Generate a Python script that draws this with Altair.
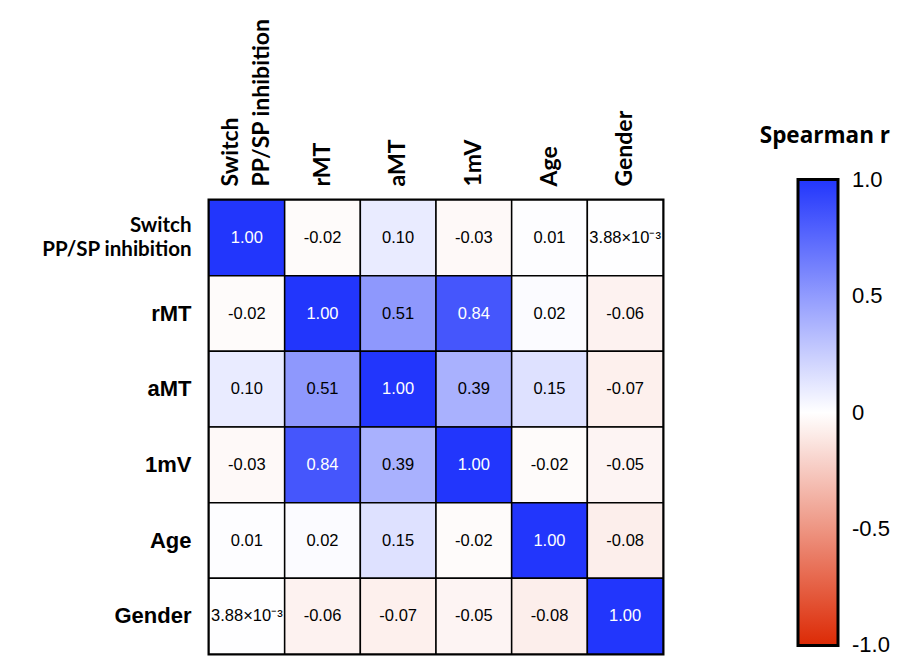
import altair as alt
import pandas as pd

variables = ["Switch\nPP/SP inhibition", "rMT", "aMT", "1mV", "Age", "Gender"]
matrix = [
    [1.00, -0.02, 0.10, -0.03, 0.01, 0.00388],
    [-0.02, 1.00, 0.51, 0.84, 0.02, -0.06],
    [0.10, 0.51, 1.00, 0.39, 0.15, -0.07],
    [-0.03, 0.84, 0.39, 1.00, -0.02, -0.05],
    [0.01, 0.02, 0.15, -0.02, 1.00, -0.08],
    [0.00388, -0.06, -0.07, -0.05, -0.08, 1.00],
]
# end ticks nudged just inside the domain so their labels centre on the ends
legend_values = [-0.9999, -0.5, 0.0, 0.5, 0.9999]


def fmt(v):
    if v != 0 and abs(v) < 0.01:
        return "3.88×10⁻³" if abs(v - 0.00388) < 1e-9 else f"{v:.2e}"
    return f"{v:.2f}"


rows = []
for i, rname in enumerate(variables):
    for j, cname in enumerate(variables):
        v = matrix[i][j]
        rows.append({"row": rname, "col": cname, "r": v, "label": fmt(v)})
df = pd.DataFrame(rows)

split_expr = "split(datum.label, '\\n')"
is_multi = "indexof(datum.value, 'Switch') >= 0"


def cond(test, a, b):
    return {"condition": {"test": test, "value": a}, "value": b}


x_enc = alt.X(
    "col:N",
    sort=variables,
    scale=alt.Scale(paddingInner=0, paddingOuter=0),
    axis=alt.Axis(
        orient="top", title=None, labelAngle=-90, labelAlign="left",
        labelBaseline="middle", labelFont="Lato", labelFontWeight="bold",
        labelFontSize=23, labelColor="black", labelPadding=14, labelLimit=400,
        labelLineHeight=31, labelExpr=split_expr, ticks=False, domain=False,
        labelOffset=cond(is_multi, -16, 0),
    ),
)
y_enc = alt.Y(
    "row:N",
    sort=variables,
    scale=alt.Scale(paddingInner=0, paddingOuter=0),
    axis=alt.Axis(
        title=None,
        labelFont=cond(is_multi, "Lato", "Liberation Sans"),
        labelFontWeight="bold",
        labelFontSize=cond(is_multi, 20.5, 22),
        labelColor="black", labelPadding=18, labelLimit=400,
        labelLineHeight=24, labelExpr=split_expr, ticks=False, domain=False,
        labelOffset=cond(is_multi, -12, 0),
    ),
)

color_scale = alt.Scale(
    domain=[-1, 0, 1], range=["#dc2a05", "#ffffff", "#2236fc"], interpolate="rgb"
)

rect = alt.Chart(df).mark_rect(stroke="black", strokeWidth=1.5).encode(
    x=x_enc,
    y=y_enc,
    color=alt.Color(
        "r:Q",
        scale=color_scale,
        legend=alt.Legend(
            title="Spearman r", orient="none", legendX=551, legendY=-75,
            direction="vertical", gradientLength=466, gradientThickness=40,
            gradientStrokeColor="black", gradientStrokeWidth=3,
            values=legend_values,
            labelExpr="abs(datum.value) < 1e-9 ? '0' : replace(format(datum.value, '.1f'), '−', '-')",
            labelFont="Liberation Sans", labelFontSize=22, labelColor="black",
            labelOffset=14, labelBaseline="middle", labelOverlap=False,
            titleFont="Open Sans", titleFontWeight="bold", titleFontSize=22.5,
            titleColor="black", titleAnchor="end", titlePadding=32,
            titleBaseline="top", padding=0,
        ),
    ),
)

text = alt.Chart(df).mark_text(font="Liberation Sans", fontSize=16.5).encode(
    x=alt.X("col:N", sort=variables),
    y=alt.Y("row:N", sort=variables),
    text="label:N",
    color=alt.condition("datum.r > 0.7", alt.value("white"), alt.value("black")),
)

chart = (
    alt.layer(rect, text)
    .properties(
        width=454, height=454,
        autosize=alt.AutoSizeParams(type="none"),
        padding={"left": 201, "top": 192, "right": 231, "bottom": 2},
    )
    .configure_view(stroke="black", strokeWidth=3)
)

chart.save("out.html", embed_options={"renderer": "svg", "actions": False})
